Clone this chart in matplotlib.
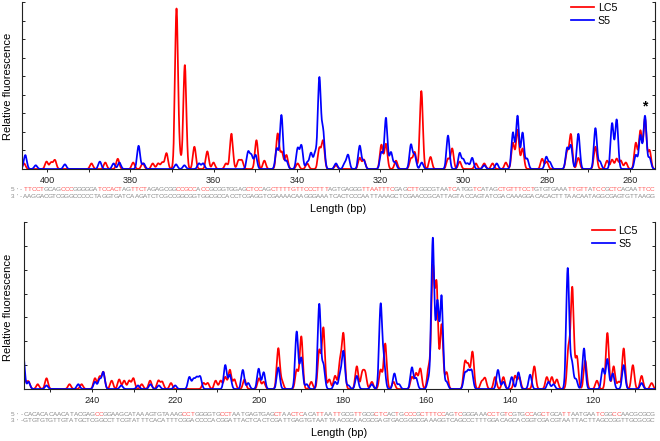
import numpy as np
import matplotlib
matplotlib.use("Agg")
import matplotlib.pyplot as plt
from matplotlib.ticker import MultipleLocator, NullFormatter

plt.rcParams['font.family'] = ['Liberation Sans', 'DejaVu Sans']

# --- data (peak position in bp, peak height in tick units) ---
top_lc5_pos = [405.5, 400.1, 399.0, 398.1, 389.3, 386.0, 383.0, 379.3, 377.0, 374.6, 373.3,
               372.3, 371.3, 368.9, 368.1, 366.9, 364.6, 361.5, 360.0, 357.0, 355.7, 354.0,
               353.2, 349.7, 347.8, 344.6, 343.6, 342.5, 339.8, 337.5, 334.6, 333.7, 330.6,
               324.9, 323.9, 319.7, 318.6, 316.2, 312.6, 311.7, 310.1, 307.9, 303.7, 302.7,
               300.9, 297.0, 295.0, 293.0, 289.8, 288.1, 287.0, 285.8, 281.1, 280.0, 275.1,
               274.2, 272.4, 268.3, 265.5, 264.3, 263.2, 262.2, 261.0, 258.6, 257.5, 256.4,
               255.3]
top_lc5_val = [0.3, 0.4, 0.35, 0.48, 0.3, 0.35, 0.55, 0.35, 0.3, 0.3, 0.3,
               0.35, 0.85, 8.6, 0.6, 5.6, 1.2, 0.95, 0.35, 0.3, 1.9, 0.45,
               0.45, 1.55, 0.45, 1.9, 0.9, 0.75, 0.3, 0.3, 1.1, 1.5, 0.2,
               0.6, 0.5, 1.3, 1.35, 0.45, 0.55, 0.9, 4.2, 0.65, 0.55, 1.1,
               0.4, 0.3, 0.3, 0.3, 0.35, 1.4, 2.1, 1.1, 0.55, 0.4, 0.9,
               1.85, 0.6, 1.2, 0.45, 0.5, 0.55, 0.45, 0.35, 1.4, 2.05, 2.7,
               1.0]
top_s5_pos = [405.2, 402.7, 395.7, 387.3, 384.0, 382.6, 378.0, 376.8, 369.0, 367.0, 363.5,
              362.5, 351.7, 350.9, 349.9, 344.8, 343.7, 342.5, 339.8, 338.9, 337.5, 336.6,
              335.6, 334.6, 333.7, 330.6, 328.5, 327.7, 324.9, 323.9, 319.7, 318.6, 317.4,
              316.4, 312.6, 311.7, 310.0, 303.7, 300.9, 300.0, 299.0, 297.9, 295.0, 292.0,
              288.1, 287.0, 285.8, 284.7, 280.1, 279.2, 275.1, 274.2, 272.4, 268.3, 267.2,
              264.3, 263.2, 258.6, 257.5, 256.4, 255.3]
top_s5_val = [0.75, 0.2, 0.25, 0.4, 0.3, 0.35, 1.25, 0.3, 0.25, 0.2, 0.3,
              0.3, 0.9, 0.7, 0.75, 1.1, 2.9, 0.45, 1.1, 1.25, 0.35, 0.85,
              0.85, 4.85, 2.0, 0.3, 0.3, 0.75, 1.25, 0.45, 0.9, 2.75, 0.9,
              0.35, 1.3, 0.75, 0.35, 1.8, 0.85, 0.5, 0.3, 0.6, 0.2, 0.3,
              1.95, 2.85, 1.95, 0.55, 0.65, 0.35, 1.1, 1.25, 1.9, 2.2, 0.4,
              2.45, 2.65, 0.75, 1.8, 2.85, 0.6]

bot_lc5_pos = [256.0, 255.2, 253.0, 250.9, 245.4, 242.5, 239.3, 238.2, 237.3, 235.3, 233.5,
               232.3, 231.1, 230.1, 228.1, 226.1, 224.1, 223.2, 221.1, 213.3, 212.3, 210.4,
               209.2, 208.1, 207.0, 205.9, 203.5, 200.0, 198.9, 195.4, 194.5, 191.0, 189.9,
               187.5, 185.6, 184.6, 183.2, 181.8, 180.6, 179.8, 176.6, 175.3, 174.6, 173.0,
               170.9, 169.8, 167.8, 163.4, 162.4, 161.4, 159.4, 158.4, 157.5, 156.3, 155.1,
               150.7, 149.9, 148.9, 146.7, 145.9, 143.5, 141.5, 138.7, 137.7, 134.1, 131.1,
               129.9, 128.7, 125.9, 125.0, 123.9, 121.9, 119.1, 116.6, 115.1, 113.9, 112.7,
               110.5, 108.4, 106.0]
bot_lc5_val = [0.3, 0.3, 0.2, 0.45, 0.2, 0.2, 0.45, 0.5, 0.7, 0.35, 0.4,
               0.35, 0.35, 0.45, 0.2, 0.35, 0.35, 0.3, 0.25, 0.25, 0.25, 0.35,
               0.35, 0.5, 0.8, 0.4, 0.4, 0.45, 0.3, 1.7, 0.3, 0.8, 2.2,
               0.3, 1.6, 2.55, 0.4, 0.55, 1.15, 2.25, 0.95, 0.65, 0.65, 0.3,
               0.8, 1.9, 0.3, 0.5, 0.65, 0.85, 0.9, 5.0, 4.3, 2.7, 0.7,
               1.1, 0.95, 1.55, 0.3, 0.45, 0.5, 0.5, 0.55, 0.5, 0.95, 0.5,
               0.5, 0.4, 1.7, 4.2, 1.35, 1.2, 0.35, 2.35, 0.95, 0.3, 1.7,
               1.0, 0.55, 0.25]
bot_s5_pos = [256.5, 255.2, 250.9, 243.3, 239.3, 238.2, 237.3, 233.0, 229.0, 226.0, 224.0,
              220.1, 216.7, 215.7, 214.9, 214.1, 208.1, 207.0, 203.9, 202.6, 200.1, 198.9,
              195.4, 191.0, 189.9, 188.6, 185.6, 184.6, 181.8, 180.6, 179.8, 178.6, 176.6,
              173.0, 170.9, 170.1, 167.6, 166.5, 163.4, 162.4, 159.4, 158.4, 157.3, 156.3,
              155.1, 150.7, 149.9, 149.1, 142.8, 141.5, 139.5, 137.9, 135.1, 130.7, 129.5,
              126.1, 125.1, 124.1, 122.2, 117.7, 116.6, 115.3, 112.7, 108.4]
bot_s5_val = [1.5, 0.3, 0.15, 0.2, 0.3, 0.4, 0.7, 0.15, 0.15, 0.2, 0.15,
              0.15, 0.5, 0.4, 0.45, 0.5, 1.0, 0.6, 0.8, 0.25, 0.85, 0.7,
              0.9, 2.4, 1.3, 0.2, 3.55, 1.0, 0.3, 0.6, 1.55, 0.15, 0.55,
              0.2, 3.5, 1.05, 0.65, 0.2, 0.9, 0.45, 0.4, 6.3, 3.6, 3.85,
              0.3, 0.65, 0.7, 0.75, 0.8, 0.3, 0.5, 0.7, 0.6, 0.3, 0.2,
              5.05, 1.1, 0.4, 1.7, 0.85, 1.25, 0.65, 1.0, 0.25]

# sequences: lowercase = bases highlighted in red
top_seq5 = "5'-ttcctGCAGcccGGGGGAtccactAGttctAGAGCGGccgccAccGCGGTGGAGctccAGcttttgttccctttAGTGAGGGttaatttcGAGcttGGCGTAAtcATGGtcATAGctgtttcctGTGTGAAAttgttAtccGctcACAAttcc"
top_seq3 = "3'-AAGGACGTCGGGCCCCCTAGGTGATCAAGATCTCGCCGGCGGTGGCGCCACCTCGAGGTCGAAAACAAGGGAAATCACTCCCAATTAAAGCTCGAACCGCATTAGTACCAGTATCGACAAAGGACACACTTTAACAATAGGCGAGTGTTAAGG"
bot_seq5 = "5'-CACACACAACATACGAGccGGAAGCATAAAGTGTAAAGcctGGGGTGcctAATGAGTGAGctAActcACAttAAttGCGttGCGctcACtGcccGctttccAGtcGGGAAAcctGtcGTGccAGctGCAttAATGAAtcGGccAACGCGCG"
bot_seq3 = "3'-GTGTGTGTTGTATGCTCGGCCTTCGTATTTCACATTTCGGACCCCACGGATTACTCACTCGATTGAGTGTAATTAACGCAACGCGAGTGACGGGCGAAAGGTCAGCCCTTTGGACAGCACGGTCGACGTAATTACTTAGCCGGTTGCGCGC"

W, H = 660, 441
fig = plt.figure(figsize=(W / 100, H / 100), dpi=100)


def rect(l, t, r, b):
    return [l / W, 1 - b / H, (r - l) / W, (b - t) / H]


def trace(grid, pos, val, sigma=0.36):
    y = np.zeros_like(grid)
    for p, v in zip(pos, val):
        y += v * np.exp(-0.5 * ((grid - p) / sigma) ** 2)
    return y


def draw_seq(text, y_px, x0=13, x1=652):
    xs = np.linspace(x0, x1, len(text))
    for x, ch in zip(xs, text):
        col = '#ff5a5a' if ch.islower() else '#8a8a8a'
        fig.text(x / W, 1 - y_px / H, ch.upper(), color=col, fontsize=4.6,
                 ha='center', va='center')


panels = [
    dict(box=(22, 2, 655, 169), xlim=(406, 254), ylim=9, red=(top_lc5_pos, top_lc5_val),
         blue=(top_s5_pos, top_s5_val), seqs=(top_seq5, top_seq3), seq_y=(190, 196.5),
         xlab_y=209, ylab_y=86, leg=(0.94, 0.994)),
    dict(box=(24, 222, 655, 389), xlim=(256.3, 105.2), ylim=7, red=(bot_lc5_pos, bot_lc5_val),
         blue=(bot_s5_pos, bot_s5_val), seqs=(bot_seq5, bot_seq3), seq_y=(415, 421),
         xlab_y=433, ylab_y=307, leg=(0.973, 0.976)),
]

axes = []
for p in panels:
    ax = fig.add_axes(rect(*p['box']))
    grid = np.linspace(p['xlim'][1], p['xlim'][0], 4000)
    ax.plot(grid, trace(grid, *p['red']), color='#ff0000', lw=1.25, label='LC5')
    ax.plot(grid, trace(grid, *p['blue']), color='#0000ff', lw=1.25, label='S5')
    ax.set_xlim(*p['xlim'])
    ax.set_ylim(0, p['ylim'])
    ax.xaxis.set_major_locator(MultipleLocator(20))
    ax.xaxis.set_minor_locator(MultipleLocator(10))
    ax.xaxis.set_minor_formatter(NullFormatter())
    ax.yaxis.set_major_locator(MultipleLocator(1))
    ax.tick_params(axis='x', which='both', direction='out', length=2.2, width=0.7,
                   labelsize=6.6, pad=3.0, colors='#222222')
    ax.tick_params(axis='y', which='both', direction='in', length=2.5, width=0.7,
                   left=True, right=True, labelleft=False, colors='#222222')
    ax.spines['top'].set_visible(False)
    for s in ('left', 'right', 'bottom'):
        ax.spines[s].set_linewidth(0.8)
        ax.spines[s].set_color('#222222')
    ax.legend(loc='upper right', bbox_to_anchor=p['leg'], frameon=False, fontsize=7.7,
              borderaxespad=0, borderpad=0, handlelength=2.15, handletextpad=0.35,
              labelspacing=0.3)
    l, t, r, b = p['box']
    fig.text(8 / W, 1 - p['ylab_y'] / H, 'Relative fluorescence', rotation=90,
             fontsize=8, ha='center', va='center')
    fig.text((l + r) / 2 / W, 1 - p['xlab_y'] / H, 'Length (bp)', fontsize=7.8,
             ha='center', va='center')
    draw_seq(p['seqs'][0], p['seq_y'][0])
    draw_seq(p['seqs'][1], p['seq_y'][1])
    axes.append(ax)

axes[0].text(256.5, 3.0, '*', fontsize=10, ha='center', va='bottom', fontweight='bold')

fig.savefig('out.png', dpi=100)
